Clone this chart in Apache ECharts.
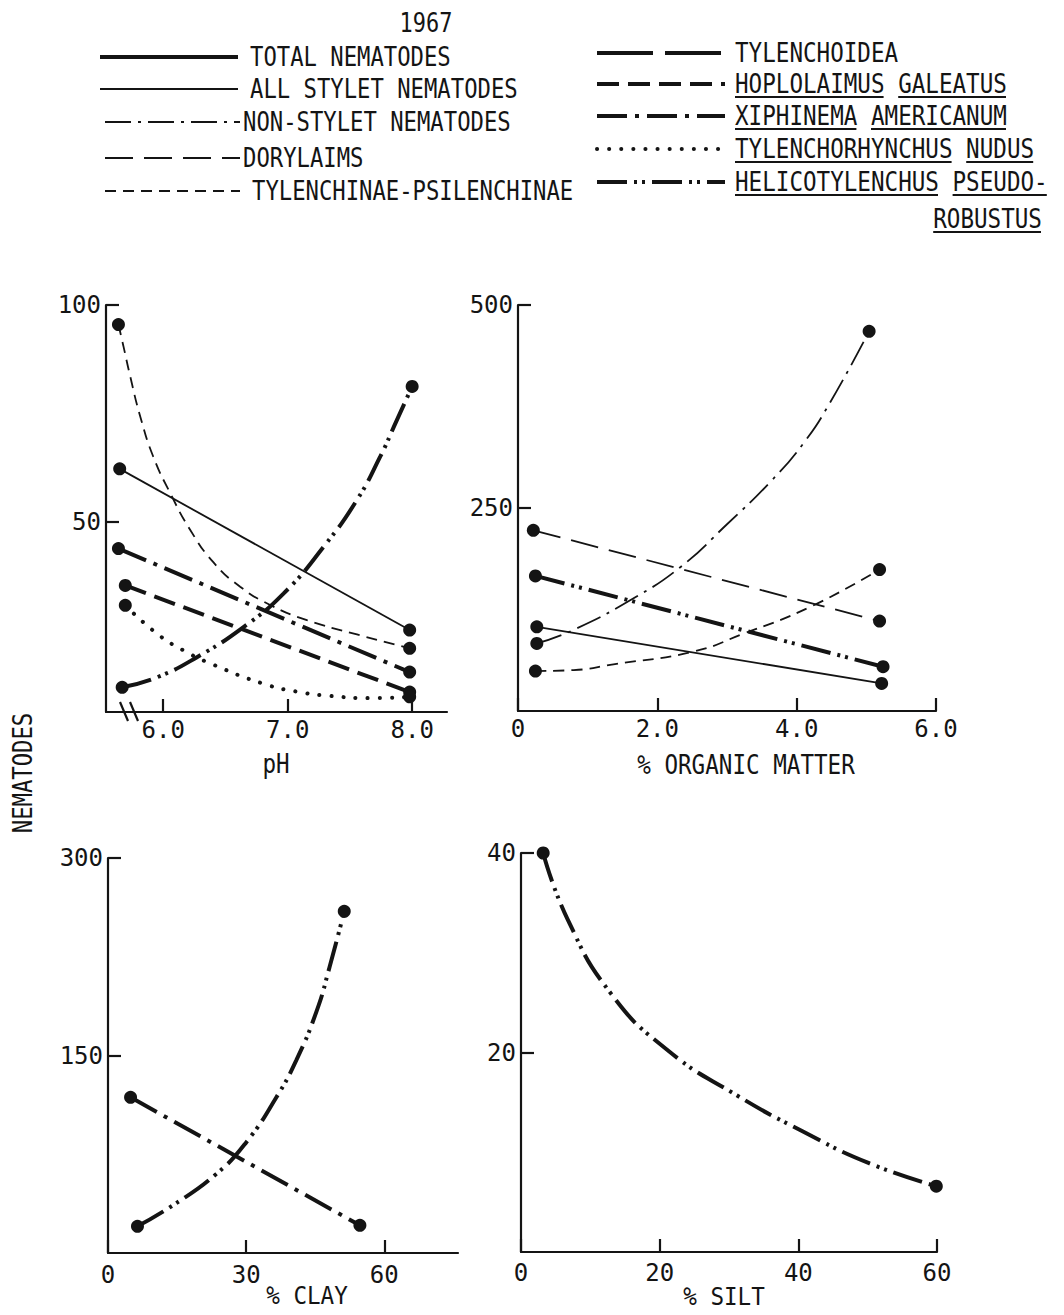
<!DOCTYPE html>
<html><head><meta charset="utf-8">
<script src="https://cdn.jsdelivr.net/npm/echarts@6/dist/echarts.min.js"></script>
<style>html,body{margin:0;padding:0;background:#fff}#c{width:1064px;height:1315px}</style>
</head><body><div id="c"></div>
<script>
// ---------------- DATA ----------------
const yearLabel = '1967';
const yAxisTitle = 'NEMATODES';
const xAxisTitles = ['pH', '% ORGANIC MATTER', '% CLAY', '% SILT'];

// Panel 1: pH
const phTicks = [6, 7, 8];
const phYTicks = [50, 100];
const phAllStylet = [[5.65, 62.2], [7.98, 25.0]];
const phTylenchinae = [[5.64, 95.5], [7.98, 20.8]];
const phTylenchinaeCurve = [[5.68, 90.5], [5.735, 83.5], [5.815, 74.3], [5.92, 65.0], [6.056, 56.6], [6.217, 48.1], [6.404, 40.6], [6.618, 35.0], [6.859, 30.8], [7.154, 27.3], [7.556, 24.0]];
const phXiphinema = [[5.64, 43.8], [7.98, 15.3]];
const phHoplolaimus = [[5.695, 35.3], [7.98, 10.7]];
const phTylenchorhynchus = [[5.695, 30.7], [7.98, 9.6]];
const phTylenchorhynchusCurve = [[5.949, 24.2], [6.163, 20.3], [6.404, 17.0], [6.806, 12.6], [7.074, 10.8], [7.341, 9.8], [7.689, 9.3]];
const phHelico = [[5.67, 11.8], [8.0, 81.2]];
const phHelicoCurve = [[5.949, 14.1], [6.271, 18.75], [6.645, 25.7], [6.966, 33.4], [7.288, 44.2], [7.556, 55.0], [7.743, 65.0], [7.878, 73.5]];

// Panel 2: % organic matter
const omTicks = [0, 2, 4, 6];
const omYTicks = [250, 500];
const omDorylaims = [[0.22, 222.5], [5.19, 110.7]];
const omHelico = [[0.25, 166.4], [5.24, 54.5]];
const omAllStylet = [[0.27, 103.7], [5.22, 34.0]];
const omNonStylet = [[0.27, 83.2], [5.04, 467.6]];
const omNonStyletCurve = [[0.79, 99.6], [1.61, 136.5], [2.33, 177.1], [3.00, 230.0], [3.62, 282.0], [4.10, 330.0], [4.48, 380.0]];
const omTylenchinae = [[0.25, 49.2], [5.19, 174.2]];
const omTylenchinaeCurve = [[0.80, 50.4], [1.37, 57.5], [2.51, 73.0], [3.23, 95.0], [4.19, 128.0]];

// Panel 3: % clay
const clayTicks = [0, 30, 60];
const clayYTicks = [150, 300];
const clayHelico = [[6.4, 20.3], [51.3, 259.5]];
const clayHelicoCurve = [[14.0, 36.0], [23.5, 60.0], [30.0, 84.0], [36.5, 117.9], [40.9, 146.5], [45.3, 183.7], [48.1, 217.0]];
const clayXiphinema = [[4.9, 118.2], [54.7, 21.0]];

// Panel 4: % silt
const siltTicks = [0, 20, 40, 60];
const siltYTicks = [20, 40];
const siltHelico = [[3.2, 40.0], [59.9, 6.6]];
const siltHelicoCurve = [[6.69, 33.4], [12.98, 25.9], [21.2, 20.2], [30.9, 15.8], [40.6, 12.1], [50.2, 8.9]];

// Legend entries
const legendLeft = [
  ['total', 'TOTAL NEMATODES'],
  ['allStylet', 'ALL STYLET NEMATODES'],
  ['nonStylet', 'NON-STYLET NEMATODES'],
  ['dorylaims', 'DORYLAIMS'],
  ['tylenchinae', 'TYLENCHINAE-PSILENCHINAE']
];
const legendRight = [
  ['tylenchoidea', 'TYLENCHOIDEA', false],
  ['hoplolaimus', 'HOPLOLAIMUS GALEATUS', true],
  ['xiphinema', 'XIPHINEMA AMERICANUM', true],
  ['tylenchorhynchus', 'TYLENCHORHYNCHUS NUDUS', true],
  ['helico', 'HELICOTYLENCHUS PSEUDO-', true]
];
const legendContinuation = 'ROBUSTUS';

// ---------------- STYLES ----------------
const INK = '#141414';
const MONO = "'DejaVu Sans Mono','Liberation Mono',monospace";
const STY = {
  total: {width: 4, type: 'solid'},
  allStylet: {width: 1.8, type: 'solid'},
  nonStylet: {width: 1.8, type: [26, 7, 3, 7]},
  dorylaims: {width: 1.8, type: [28, 11]},
  tylenchinae: {width: 1.8, type: [11, 7]},
  tylenchoidea: {width: 4, type: [56, 12]},
  hoplolaimus: {width: 4, type: [22, 9]},
  xiphinema: {width: 4, type: [30, 8, 4, 8]},
  tylenchorhynchus: {width: 4, type: [0.1, 12], cap: 'round'},
  helico: {width: 4, type: [30, 7, 3, 5, 3, 7]}
};

const grids = [
  {left: 106, top: 305, width: 341, height: 407},
  {left: 518, top: 305, width: 418, height: 406},
  {left: 108, top: 858, width: 350, height: 395},
  {left: 521, top: 853, width: 416, height: 399}
];

function xAx(g, min, max, ticks, fmt, margin) {
  return {
    type: 'value', gridIndex: g, min: min, max: max,
    axisLine: {lineStyle: {color: INK, width: 2.2}},
    axisTick: {inside: true, length: 13, lineStyle: {color: INK, width: 2.2}, customValues: ticks},
    axisLabel: {customValues: ticks, formatter: fmt, color: INK, fontFamily: MONO, fontSize: 24, margin: margin},
    splitLine: {show: false}
  };
}
function yAx(g, min, max, ticks) {
  return {
    type: 'value', gridIndex: g, min: min, max: max,
    axisLine: {show: true, lineStyle: {color: INK, width: 2.2}},
    axisTick: {show: true, inside: true, length: 13, lineStyle: {color: INK, width: 2.2}, customValues: ticks},
    axisLabel: {customValues: ticks, formatter: v => String(v), color: INK, fontFamily: MONO, fontSize: 24, margin: 5},
    splitLine: {show: false}
  };
}

const series = [];
const endPoints = [[], [], [], []];
function addLine(g, name, key, pts, curve) {
  const s = STY[key];
  const data = curve ? [pts[0]].concat(curve, [pts[pts.length - 1]]) : pts;
  series.push({
    type: 'line', name: name, xAxisIndex: g, yAxisIndex: g, data: data,
    smooth: curve ? 0.5 : false,
    symbol: 'none', silent: true,
    lineStyle: {color: INK, width: s.width, type: s.type, cap: s.cap || 'butt', opacity: 1}
  });
  pts.forEach(p => endPoints[g].push(p));
}

addLine(0, 'ALL STYLET NEMATODES', 'allStylet', phAllStylet);
addLine(0, 'TYLENCHINAE-PSILENCHINAE', 'tylenchinae', phTylenchinae, phTylenchinaeCurve);
addLine(0, 'XIPHINEMA AMERICANUM', 'xiphinema', phXiphinema);
addLine(0, 'HOPLOLAIMUS GALEATUS', 'hoplolaimus', phHoplolaimus);
addLine(0, 'TYLENCHORHYNCHUS NUDUS', 'tylenchorhynchus', phTylenchorhynchus, phTylenchorhynchusCurve);
addLine(0, 'HELICOTYLENCHUS PSEUDOROBUSTUS', 'helico', phHelico, phHelicoCurve);

addLine(1, 'DORYLAIMS', 'dorylaims', omDorylaims);
addLine(1, 'HELICOTYLENCHUS PSEUDOROBUSTUS', 'helico', omHelico);
addLine(1, 'ALL STYLET NEMATODES', 'allStylet', omAllStylet);
addLine(1, 'NON-STYLET NEMATODES', 'nonStylet', omNonStylet, omNonStyletCurve);
addLine(1, 'TYLENCHINAE-PSILENCHINAE', 'tylenchinae', omTylenchinae, omTylenchinaeCurve);

addLine(2, 'HELICOTYLENCHUS PSEUDOROBUSTUS', 'helico', clayHelico, clayHelicoCurve);
addLine(2, 'XIPHINEMA AMERICANUM', 'xiphinema', clayXiphinema);

addLine(3, 'HELICOTYLENCHUS PSEUDOROBUSTUS', 'helico', siltHelico, siltHelicoCurve);

for (let g = 0; g < 4; g++) {
  series.push({
    type: 'scatter', xAxisIndex: g, yAxisIndex: g, data: endPoints[g],
    symbol: 'circle', symbolSize: 13, itemStyle: {color: INK, opacity: 1}, silent: true, z: 5
  });
}

// ---------------- GRAPHIC (title, legend keys, axis titles, axis break) ----------------
const graphic = [];
function monoText(x, y, text, adv, align, extra, fsz) {
  const fs = fsz || 27;
  graphic.push(Object.assign({
    type: 'text', x: x, y: y, scaleX: adv / (0.602 * fs), silent: true,
    style: {text: text, fontFamily: MONO, fontSize: fs, fill: INK, align: align || 'left', verticalAlign: 'middle'}
  }, extra || {}));
}
function keyLine(x1, x2, y, key) {
  const s = STY[key];
  graphic.push({
    type: 'line', silent: true,
    shape: {x1: x1, y1: y, x2: x2, y2: y},
    style: {stroke: INK, lineWidth: s.width, lineDash: s.type === 'solid' ? null : s.type, lineCap: s.cap || 'butt'}
  });
}
function underlineWords(x, y, text, adv) {
  let i = 0;
  text.split(' ').forEach(w => {
    graphic.push({type: 'line', silent: true,
      shape: {x1: x + i * adv, y1: y, x2: x + (i + w.length) * adv - 1, y2: y},
      style: {stroke: INK, lineWidth: 2}});
    i += w.length + 1;
  });
}

// title
monoText(426, 23, yearLabel, 13.2, 'center');

const leftRowsY = [57, 89, 122, 158, 191];
const leftTextX = [250, 250, 243, 243, 252];
const leftLineX1 = [100, 100, 105, 105, 105];
const leftLineX2 = [238, 238, 240, 240, 240];
legendLeft.forEach((r, i) => {
  keyLine(leftLineX1[i], leftLineX2[i], leftRowsY[i], r[0]);
  monoText(leftTextX[i], leftRowsY[i], r[1], 13.4);
});
const rightRowsY = [53, 84, 116, 149, 182];
legendRight.forEach((r, i) => {
  keyLine(597, 725, rightRowsY[i], r[0]);
  monoText(735, rightRowsY[i], r[1], 13.6);
  if (r[2]) underlineWords(735, rightRowsY[i] + 13, r[1], 13.6);
});
const contX = 1042 - legendContinuation.length * 13.6;
monoText(contX, 219, legendContinuation, 13.6);
underlineWords(contX, 232, legendContinuation, 13.6);

// x-axis titles
monoText(276, 764, xAxisTitles[0], 13.6, 'center', null, 26);
monoText(746, 765, xAxisTitles[1], 13.6, 'center', null, 26);
monoText(307, 1296, xAxisTitles[2], 13.6, 'center', null, 25);
monoText(724, 1297, xAxisTitles[3], 13.6, 'center', null, 25);

// y-axis title
monoText(23, 773, yAxisTitle, 13.4, 'center', {rotation: Math.PI / 2});

// axis break marks on the pH axis
graphic.push({type: 'line', silent: true, shape: {x1: 120, y1: 702, x2: 128, y2: 721}, style: {stroke: INK, lineWidth: 2.2}});
graphic.push({type: 'line', silent: true, shape: {x1: 130, y1: 702, x2: 138, y2: 721}, style: {stroke: INK, lineWidth: 2.2}});

const option = {
  backgroundColor: '#ffffff',
  animation: false,
  grid: grids,
  xAxis: [
    xAx(0, 5.54, 8.28, phTicks, v => v.toFixed(1), 6),
    xAx(1, 0, 6, omTicks, v => v === 0 ? '0' : v.toFixed(1), 6),
    xAx(2, 0, 76, clayTicks, v => String(v), 10),
    xAx(3, 0, 60, siltTicks, v => String(v), 9)
  ],
  yAxis: [
    yAx(0, 6.1, 100, phYTicks),
    yAx(1, 0, 500, omYTicks),
    yAx(2, 0, 300, clayYTicks),
    yAx(3, 0, 40, siltYTicks)
  ],
  series: series,
  graphic: graphic
};
const chart = echarts.init(document.getElementById('c'), null, {renderer: 'svg'});
chart.setOption(option);
</script>
</body></html>
